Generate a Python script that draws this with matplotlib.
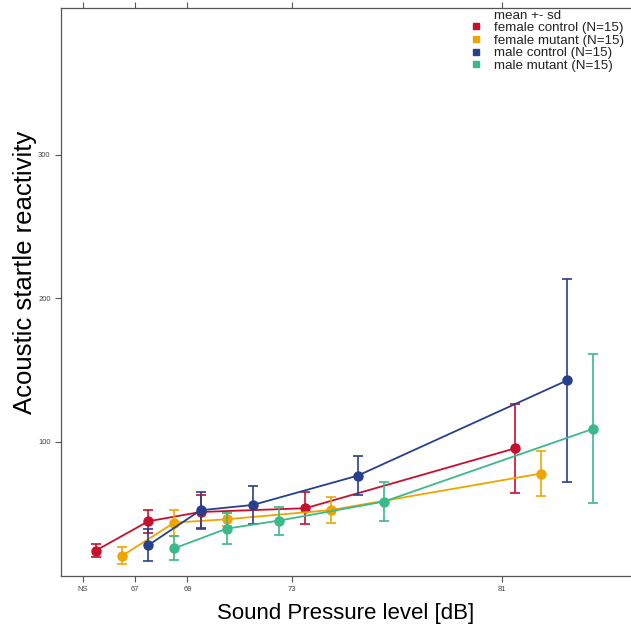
import matplotlib
matplotlib.use("Agg")
import matplotlib.pyplot as plt
from matplotlib.lines import Line2D
import numpy as np

plt.rcParams['font.family'] = ['Liberation Sans', 'DejaVu Sans']

# stimulus levels (NS = no stimulus, plotted at 65)
levels = [65, 67, 69, 73, 81]
level_labels = ["NS", "67", "69", "73", "81"]

groups = ["female control (N=15)", "female mutant (N=15)",
          "male control (N=15)", "male mutant (N=15)"]
colors = ["#c8102e", "#efa500", "#27408b", "#3cb98a"]

fc_mean = [24.3, 44.7, 51.2, 53.8, 95.5]
fc_sd = [4.3, 8.0, 12.0, 11.0, 31.0]
fm_mean = [20.6, 43.8, 46.1, 52.6, 78.0]
fm_sd = [6.0, 9.0, 4.5, 9.3, 15.7]
mc_mean = [28.0, 52.4, 56.1, 76.5, 142.9]
mc_sd = [11.0, 12.5, 13.0, 13.7, 70.7]
mm_mean = [25.9, 39.6, 45.2, 58.4, 109.2]
mm_sd = [8.5, 10.7, 9.8, 13.7, 52.0]

means = [fc_mean, fm_mean, mc_mean, mm_mean]
sds = [fc_sd, fm_sd, mc_sd, mm_sd]

fig = plt.figure(figsize=(6.31, 6.29), dpi=100)
ax = fig.add_axes([0.0967, 0.0843, 0.91, 0.903])

for i, (m, s, c) in enumerate(zip(means, sds, colors)):
    x = np.array(levels) + 0.5 + i   # dodge groups side by side
    ax.errorbar(x, m, yerr=s, color=c, ecolor=c, lw=1.3, elinewidth=1.2,
                capsize=3.3, capthick=1.2, marker='o', ms=6.5, zorder=3 + i)

ax.set_xlim(64.17, 86.1)
ax.set_ylim(6.6, 402.4)
ax.set_xticks(levels)
ax.set_xticklabels(level_labels)
ax.set_yticks([100, 200, 300])
ax.tick_params(axis='both', labelsize=5.5, labelcolor='#444444', color='#555555',
               length=4, width=0.8, direction='out')
ax.tick_params(axis='x', top=True)
ax.spines['right'].set_visible(False)
for sp in ['left', 'bottom', 'top']:
    ax.spines[sp].set_color('#555555')
    ax.spines[sp].set_linewidth(0.9)

ax.set_xlabel("Sound Pressure level [dB]", fontsize=16)
ax.xaxis.set_label_coords(0.495, -0.066, transform=ax.transAxes)
ax.xaxis.label.set_va('center')
ax.set_ylabel("Acoustic startle reactivity", fontsize=18.5)
ax.yaxis.set_label_coords(-0.063, 0.534, transform=ax.transAxes)
ax.yaxis.label.set_va('center')

handles = [Line2D([], [], ls='none', marker='s', ms=0, color='white')]
handles += [Line2D([], [], ls='none', marker='s', ms=5, color=c) for c in colors]
leg = fig.legend(handles, ["mean +- sd"] + groups, loc='upper left',
                 bbox_to_anchor=(0.736, 0.996), frameon=False, fontsize=9.6,
                 handlelength=0.8, handletextpad=0.9, labelspacing=0.02,
                 borderpad=0)
for t in leg.get_texts():
    t.set_color('#222222')

fig.savefig("out.png", dpi=100)
